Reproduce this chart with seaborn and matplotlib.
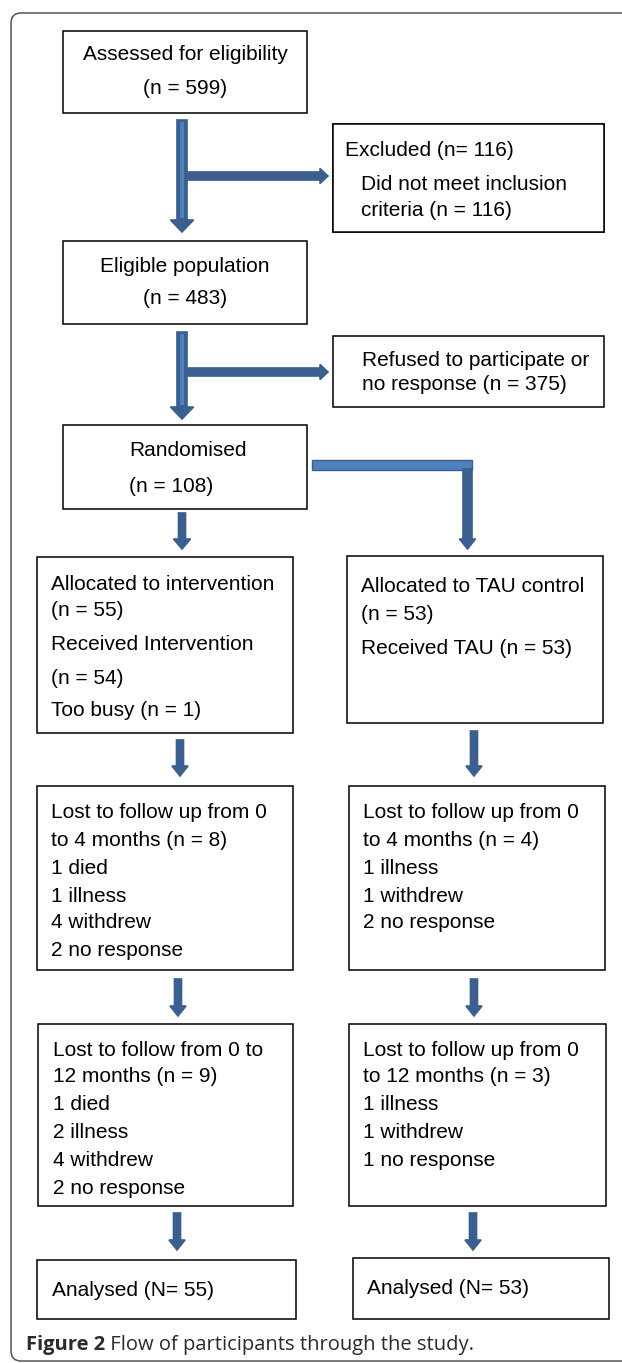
import matplotlib.pyplot as plt
import seaborn as sns
from matplotlib.patches import FancyArrow, FancyBboxPatch, Rectangle

# participant counts
assessed_n = 599
excluded_n = 116
eligible_n = 483
refused_n = 375
randomised_n = 108
allocated_n = [55, 53]  # intervention, TAU control
received_n = [54, 53]
too_busy_n = 1
lost4_n = [8, 4]
lost4_reasons_int = ["died", "illness", "withdrew", "no response"]
lost4_counts_int = [1, 1, 4, 2]
lost4_reasons_tau = ["illness", "withdrew", "no response"]
lost4_counts_tau = [1, 1, 2]
lost12_n = [9, 3]
lost12_reasons_int = ["died", "illness", "withdrew", "no response"]
lost12_counts_int = [1, 2, 4, 2]
lost12_reasons_tau = ["illness", "withdrew", "no response"]
lost12_counts_tau = [1, 1, 1]
analysed_n = [55, 53]

sns.set_theme(style="white")
plt.rcParams["font.family"] = ["Liberation Sans", "DejaVu Sans"]

DARK = "#3b5f8f"
LIGHT = "#4f81bd"
FS = 15

fig = plt.figure(figsize=(6.22, 13.63), dpi=100)
ax = fig.add_axes([0, 0, 1, 1])
ax.set_xlim(0, 622)
ax.set_ylim(1363, 0)
ax.axis("off")

# outer rounded frame (runs off the right edge)
ax.add_patch(FancyBboxPatch((11, 13), 650, 1348, boxstyle="round,pad=0,rounding_size=10",
                            fc="none", ec="#555555", lw=1.1))


def box(x0, y0, x1, y1, lines, tx, ty, ha="left"):
    ax.add_patch(Rectangle((x0, y0), x1 - x0, y1 - y0, fc="white", ec="black", lw=1.1))
    for txt, yy in zip(lines, ty):
        ax.text(tx, yy, txt, ha=ha, va="center", fontsize=FS, color="black")


def arrow(x0, y0, x1, y1, w, hw, hl, fc=DARK, ec=DARK, inner=False):
    ax.add_patch(FancyArrow(x0, y0, x1 - x0, y1 - y0, width=w, head_width=hw, head_length=hl,
                            length_includes_head=True, fc=fc, ec=ec, lw=1.2))
    if inner:
        ax.add_patch(Rectangle((x0 - w * 0.22, y0 + 2), w * 0.44, (y1 - y0) - hl - 4,
                               fc=LIGHT, ec="none"))


# top column
box(63, 31, 307, 113, ["Assessed for eligibility", f"(n = {assessed_n})"], 185, [55, 88], ha="center")
arrow(182, 120, 182, 232, 10, 23, 12, inner=True)
arrow(187, 176, 328, 176, 8, 15, 8)
box(333, 124, 604, 232, [f"Excluded (n= {excluded_n})"], 345, [150])
box(333, 124, 604, 232, ["", "Did not meet inclusion", f"criteria (n = {excluded_n})"], 361, [150, 185, 210])

box(63, 241, 307, 324, ["Eligible population", f"(n = {eligible_n})"], 185, [266, 299], ha="center")
arrow(182, 332, 182, 419, 10, 23, 12, inner=True)
arrow(187, 372, 328, 372, 8, 15, 8)
box(333, 336, 604, 407, ["Refused to participate or", f"no response (n = {refused_n})"], 362, [360, 384])

box(63, 425, 307, 509, ["Randomised", f"(n = {randomised_n})"], 129, [450, 487])
ax.add_patch(Rectangle((312, 460), 160, 10, fc=LIGHT, ec=DARK, lw=1.0))
arrow(467.5, 469, 467.5, 549, 9, 16, 10)
arrow(182, 513, 182, 549, 7, 17, 10)

# allocation
box(37, 557, 293, 733,
    ["Allocated to intervention", f"(n = {allocated_n[0]})", "Received Intervention",
     f"(n = {received_n[0]})", f"Too busy (n = {too_busy_n})"],
    51, [584, 611, 644, 678, 710])
box(347, 556, 603, 723,
    ["Allocated to TAU control", f"(n = {allocated_n[1]})", f"Received TAU (n = {received_n[1]})"],
    361, [587, 615, 648])
arrow(180, 740, 180, 776, 7, 16, 10)
arrow(474, 731, 474, 776, 7, 16, 10)

# 0-4 months
l4_int = [f"Lost to follow up from 0", f"to 4 months (n = {lost4_n[0]})"] + \
    [f"{c} {r}" for r, c in zip(lost4_reasons_int, lost4_counts_int)]
l4_tau = [f"Lost to follow up from 0", f"to 4 months (n = {lost4_n[1]})"] + \
    [f"{c} {r}" for r, c in zip(lost4_reasons_tau, lost4_counts_tau)]
box(37, 786, 293, 970, l4_int, 51, [812, 840, 868, 896, 923, 951])
box(349, 786, 605, 970, l4_tau, 363, [812, 840, 868, 896, 923])
arrow(178, 979, 178, 1016, 7, 16, 10)
arrow(474, 979, 474, 1016, 7, 16, 10)

# 0-12 months
l12_int = ["Lost to follow from 0 to", f"12 months (n = {lost12_n[0]})"] + \
    [f"{c} {r}" for r, c in zip(lost12_reasons_int, lost12_counts_int)]
l12_tau = ["Lost to follow up from 0", f"to 12 months (n = {lost12_n[1]})"] + \
    [f"{c} {r}" for r, c in zip(lost12_reasons_tau, lost12_counts_tau)]
box(38, 1024, 293, 1206, l12_int, 53, [1050, 1077, 1105, 1133, 1160, 1188])
box(349, 1024, 606, 1206, l12_tau, 363, [1050, 1077, 1105, 1133, 1160])
arrow(177, 1213, 177, 1250, 7, 16, 10)
arrow(473, 1213, 473, 1250, 7, 16, 10)

# analysed
box(37, 1260, 296, 1319, [f"Analysed (N= {analysed_n[0]})"], 52, [1290])
box(353, 1258, 609, 1319, [f"Analysed (N= {analysed_n[1]})"], 367, [1288])

# caption: bold figure number then regular text
cap = ax.text(26, 1345, "Figure 2", ha="left", va="center", fontsize=14.5, fontweight="bold",
              family=["Open Sans", "DejaVu Sans"], color="#2b2b2b")
fig.canvas.draw()
bb = cap.get_window_extent().transformed(ax.transData.inverted())
ax.text(bb.x1, 1345, " Flow of participants through the study.", ha="left", va="center",
        fontsize=14.5, family=["Open Sans", "DejaVu Sans"], color="#2b2b2b")

fig.savefig("out.png", dpi=100)
